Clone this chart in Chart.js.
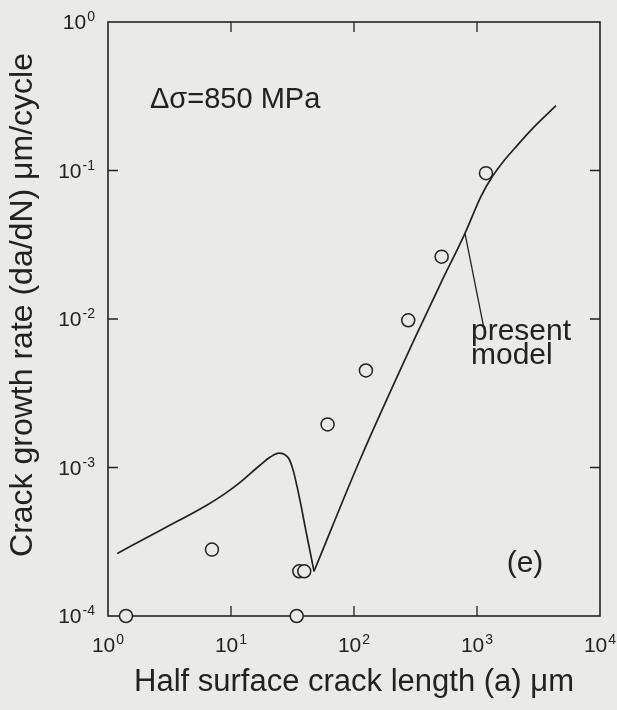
<!DOCTYPE html>
<html>
<head>
<meta charset="utf-8">
<script src="https://cdn.jsdelivr.net/npm/chart.js@4.4.1/dist/chart.umd.min.js"></script>
<style>
  html, body { margin: 0; padding: 0; background: #eaebe8; }
  canvas { display: block; }
</style>
</head>
<body>
<canvas id="crackChart" width="617" height="710"></canvas>
<script>
// Crack growth data
const xTickExps = [0, 1, 2, 3, 4];
const yTickExps = [-4, -3, -2, -1, 0];

// measured points: half crack length (um) / growth rate (um/cycle)
const measuredA = [1.4, 7.0, 34.2, 35.9, 39.4, 61, 125, 276, 516, 1183];
const measuredRate = [1e-4, 2.8e-4, 1e-4, 2.0e-4, 2.0e-4, 1.95e-3, 4.5e-3, 9.8e-3, 2.63e-2, 0.096];

// present model curve, before and after its sharp minimum
const modelLowA = [1.19, 2.7, 6.4, 9, 12, 15, 17.3, 21, 24.5, 27, 29.5, 32, 34.5, 37.5, 40.5, 44, 47.3];
const modelLowRate = [2.64e-4, 3.8e-4, 5.6e-4, 6.7e-4, 8.0e-4, 9.4e-4, 1.04e-3, 1.18e-3, 1.25e-3, 1.23e-3, 1.15e-3, 9.6e-4, 7.4e-4, 5.3e-4, 3.8e-4, 2.7e-4, 2.0e-4];
const modelHighA = [47.3, 113, 307, 507, 790, 1078, 1320, 1650, 2010, 2750, 4390];
const modelHighRate = [2.0e-4, 1.15e-3, 7.2e-3, 1.74e-2, 3.7e-2, 6.7e-2, 9.0e-2, 0.116, 0.140, 0.187, 0.273];

// leader line from the curve to the "present model" label
const leaderA = [798, 1125];
const leaderRate = [0.0378, 0.0091];

const BG = '#eaebe8';
const INK = '#222222';
const FONT = '"Liberation Sans", Arial, sans-serif';

function toPoints(xs, ys) {
    return xs.map((x, i) => ({ x: x, y: ys[i] }));
}

function curveDataset(label, xs, ys) {
    return {
        label: label,
        data: toPoints(xs, ys),
        showLine: true,
        borderColor: INK,
        borderWidth: 1.7,
        pointRadius: 0,
        cubicInterpolationMode: 'monotone',
        clip: false
    };
}

// "10" with a raised exponent
function drawPower(ctx, exp, x, baseY, align) {
    ctx.font = '21px ' + FONT;
    const wb = ctx.measureText('10').width;
    ctx.font = '14px ' + FONT;
    const sup = String(exp);
    const ws = ctx.measureText(sup).width;
    const total = wb + 1 + ws;
    const left = align === 'center' ? x - total / 2 : x - total;
    ctx.textAlign = 'left';
    ctx.textBaseline = 'alphabetic';
    ctx.font = '21px ' + FONT;
    ctx.fillText('10', left, baseY);
    ctx.font = '14px ' + FONT;
    ctx.fillText(sup, left + wb + 1, baseY - 8);
}

// Frame, inward ticks, labels and notes
const framePlugin = {
    id: 'frame',
    beforeDraw(chart) {
        const ctx = chart.ctx;
        ctx.save();
        ctx.fillStyle = BG;
        ctx.fillRect(0, 0, chart.width, chart.height);
        ctx.restore();
    },
    beforeDatasetsDraw(chart) {
        const { ctx, chartArea: area, scales } = chart;
        const tick = 10;
        ctx.save();
        ctx.strokeStyle = INK;
        ctx.fillStyle = INK;
        ctx.lineWidth = 1.6;
        ctx.strokeRect(area.left, area.top, area.right - area.left, area.bottom - area.top);

        ctx.lineWidth = 1.3;
        ctx.beginPath();
        xTickExps.forEach(e => {
            const px = scales.x.getPixelForValue(Math.pow(10, e));
            if (e > xTickExps[0] && e < xTickExps[xTickExps.length - 1]) {
                ctx.moveTo(px, area.bottom); ctx.lineTo(px, area.bottom - tick);
                ctx.moveTo(px, area.top); ctx.lineTo(px, area.top + tick);
            }
        });
        yTickExps.forEach(e => {
            const py = scales.y.getPixelForValue(Math.pow(10, e));
            if (e > yTickExps[0] && e < yTickExps[yTickExps.length - 1]) {
                ctx.moveTo(area.left, py); ctx.lineTo(area.left + tick, py);
                ctx.moveTo(area.right, py); ctx.lineTo(area.right - tick, py);
            }
        });
        ctx.stroke();

        // tick labels
        xTickExps.forEach(e => {
            drawPower(ctx, e, scales.x.getPixelForValue(Math.pow(10, e)), area.bottom + 36, 'center');
        });
        yTickExps.forEach(e => {
            drawPower(ctx, e, area.left - 13, scales.y.getPixelForValue(Math.pow(10, e)) + 7, 'right');
        });

        // axis titles
        ctx.textAlign = 'center';
        ctx.textBaseline = 'alphabetic';
        ctx.font = '31px ' + FONT;
        ctx.fillText('Half surface crack length (a) \u03bcm', (area.left + area.right) / 2, 691);
        ctx.save();
        ctx.translate(32, 305);
        ctx.rotate(-Math.PI / 2);
        ctx.font = '32px ' + FONT;
        ctx.fillText('Crack growth rate (da/dN) \u03bcm/cycle', 0, 0);
        ctx.restore();

        // notes inside the plot
        ctx.textAlign = 'left';
        ctx.font = '29px ' + FONT;
        ctx.fillText('\u0394\u03c3=850 MPa', 150, 108);
        ctx.font = '30px ' + FONT;
        ctx.fillText('present', 471, 340);
        ctx.fillText('model', 471, 364);
        ctx.textAlign = 'center';
        ctx.fillText('(e)', 525, 572);
        ctx.restore();
    }
};

new Chart(document.getElementById('crackChart').getContext('2d'), {
    type: 'scatter',
    data: {
        datasets: [
            {
                label: 'measured',
                data: toPoints(measuredA, measuredRate),
                pointRadius: 6.5,
                pointBackgroundColor: BG,
                pointBorderColor: INK,
                pointBorderWidth: 1.5,
                showLine: false,
                clip: false
            },
            curveDataset('present model', modelLowA, modelLowRate),
            curveDataset('present model (upper branch)', modelHighA, modelHighRate),
            {
                label: 'leader',
                data: toPoints(leaderA, leaderRate),
                showLine: true,
                borderColor: INK,
                borderWidth: 1.3,
                pointRadius: 0,
                clip: false
            }
        ]
    },
    options: {
        responsive: false,
        animation: false,
        layout: { padding: { left: 108, top: 22, right: 17, bottom: 94 } },
        plugins: {
            legend: { display: false },
            tooltip: { enabled: false }
        },
        scales: {
            x: { type: 'logarithmic', min: 1, max: 10000, display: false },
            y: { type: 'logarithmic', min: 1e-4, max: 1, display: false }
        }
    },
    plugins: [framePlugin]
});
</script>
</body>
</html>
